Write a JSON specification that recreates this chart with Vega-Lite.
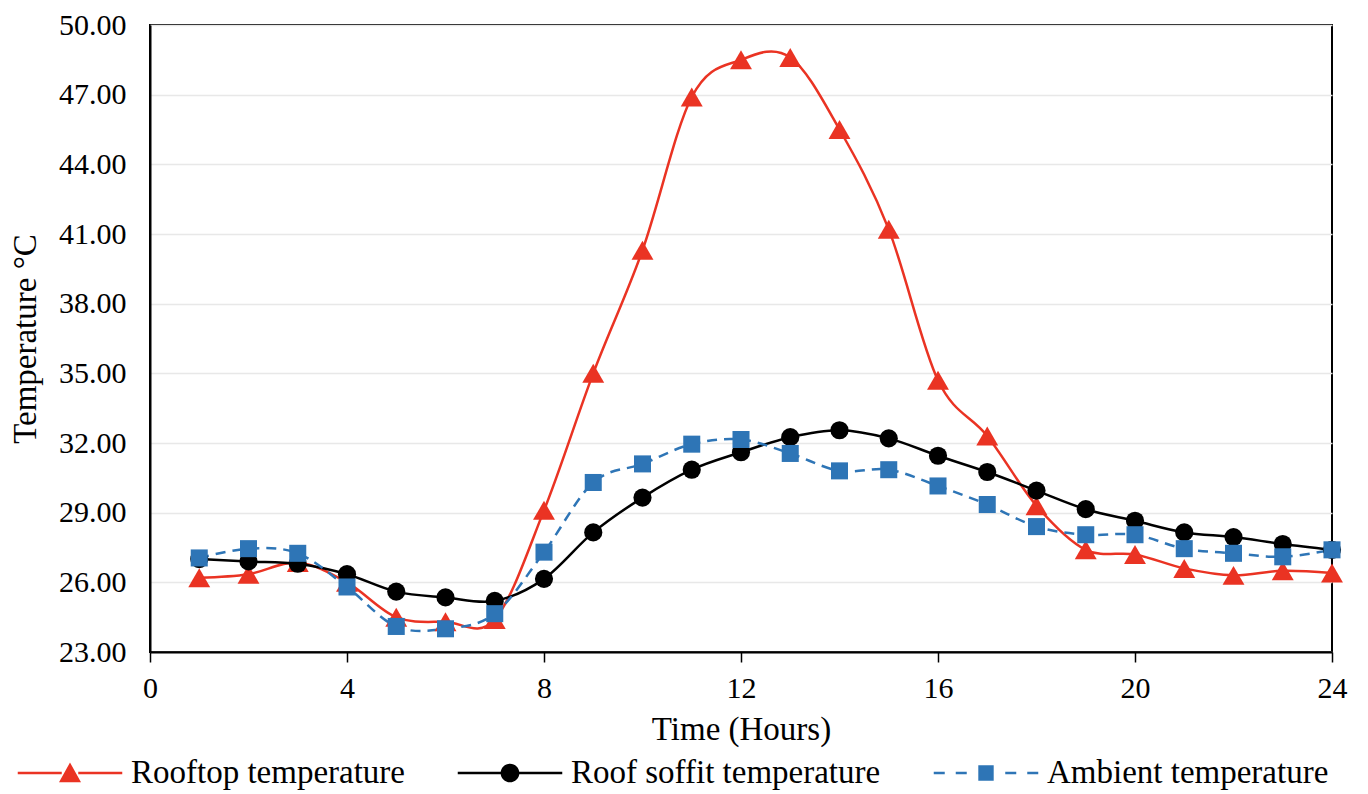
{
  "$schema": "https://vega.github.io/schema/vega-lite/v6.json",
  "autosize": "none",
  "width": 1182,
  "height": 627,
  "padding": {"left": 150, "top": 25, "right": 36, "bottom": 142},
  "background": "white",
  "config": {
    "view": {"stroke": "black", "strokeWidth": 2},
    "font": "Liberation Serif, Times New Roman, DejaVu Serif, serif"
  },
  "data": {
    "values": [
      {"hour": 1, "series": "Rooftop temperature", "temp": 26.2},
      {"hour": 2, "series": "Rooftop temperature", "temp": 26.35},
      {"hour": 3, "series": "Rooftop temperature", "temp": 26.85},
      {"hour": 4, "series": "Rooftop temperature", "temp": 26.0},
      {"hour": 5, "series": "Rooftop temperature", "temp": 24.5},
      {"hour": 6, "series": "Rooftop temperature", "temp": 24.3},
      {"hour": 7, "series": "Rooftop temperature", "temp": 24.4},
      {"hour": 8, "series": "Rooftop temperature", "temp": 29.1},
      {"hour": 9, "series": "Rooftop temperature", "temp": 35.0},
      {"hour": 10, "series": "Rooftop temperature", "temp": 40.3},
      {"hour": 11, "series": "Rooftop temperature", "temp": 46.9},
      {"hour": 12, "series": "Rooftop temperature", "temp": 48.5},
      {"hour": 13, "series": "Rooftop temperature", "temp": 48.6},
      {"hour": 14, "series": "Rooftop temperature", "temp": 45.5},
      {"hour": 15, "series": "Rooftop temperature", "temp": 41.2},
      {"hour": 16, "series": "Rooftop temperature", "temp": 34.7},
      {"hour": 17, "series": "Rooftop temperature", "temp": 32.3},
      {"hour": 18, "series": "Rooftop temperature", "temp": 29.3},
      {"hour": 19, "series": "Rooftop temperature", "temp": 27.4},
      {"hour": 20, "series": "Rooftop temperature", "temp": 27.2},
      {"hour": 21, "series": "Rooftop temperature", "temp": 26.6},
      {"hour": 22, "series": "Rooftop temperature", "temp": 26.3},
      {"hour": 23, "series": "Rooftop temperature", "temp": 26.5},
      {"hour": 24, "series": "Rooftop temperature", "temp": 26.4},
      {"hour": 1, "series": "Roof soffit temperature", "temp": 27.0},
      {"hour": 2, "series": "Roof soffit temperature", "temp": 26.9},
      {"hour": 3, "series": "Roof soffit temperature", "temp": 26.8},
      {"hour": 4, "series": "Roof soffit temperature", "temp": 26.35},
      {"hour": 5, "series": "Roof soffit temperature", "temp": 25.6},
      {"hour": 6, "series": "Roof soffit temperature", "temp": 25.35},
      {"hour": 7, "series": "Roof soffit temperature", "temp": 25.2},
      {"hour": 8, "series": "Roof soffit temperature", "temp": 26.15},
      {"hour": 9, "series": "Roof soffit temperature", "temp": 28.15},
      {"hour": 10, "series": "Roof soffit temperature", "temp": 29.65},
      {"hour": 11, "series": "Roof soffit temperature", "temp": 30.85},
      {"hour": 12, "series": "Roof soffit temperature", "temp": 31.6},
      {"hour": 13, "series": "Roof soffit temperature", "temp": 32.25},
      {"hour": 14, "series": "Roof soffit temperature", "temp": 32.55},
      {"hour": 15, "series": "Roof soffit temperature", "temp": 32.2},
      {"hour": 16, "series": "Roof soffit temperature", "temp": 31.45},
      {"hour": 17, "series": "Roof soffit temperature", "temp": 30.75},
      {"hour": 18, "series": "Roof soffit temperature", "temp": 29.95},
      {"hour": 19, "series": "Roof soffit temperature", "temp": 29.15},
      {"hour": 20, "series": "Roof soffit temperature", "temp": 28.65},
      {"hour": 21, "series": "Roof soffit temperature", "temp": 28.15},
      {"hour": 22, "series": "Roof soffit temperature", "temp": 27.95},
      {"hour": 23, "series": "Roof soffit temperature", "temp": 27.65},
      {"hour": 24, "series": "Roof soffit temperature", "temp": 27.4},
      {"hour": 1, "series": "Ambient temperature", "temp": 27.05},
      {"hour": 2, "series": "Ambient temperature", "temp": 27.45},
      {"hour": 3, "series": "Ambient temperature", "temp": 27.25},
      {"hour": 4, "series": "Ambient temperature", "temp": 25.8},
      {"hour": 5, "series": "Ambient temperature", "temp": 24.1},
      {"hour": 6, "series": "Ambient temperature", "temp": 24.0},
      {"hour": 7, "series": "Ambient temperature", "temp": 24.65},
      {"hour": 8, "series": "Ambient temperature", "temp": 27.3},
      {"hour": 9, "series": "Ambient temperature", "temp": 30.3},
      {"hour": 10, "series": "Ambient temperature", "temp": 31.1},
      {"hour": 11, "series": "Ambient temperature", "temp": 31.95},
      {"hour": 12, "series": "Ambient temperature", "temp": 32.15},
      {"hour": 13, "series": "Ambient temperature", "temp": 31.55},
      {"hour": 14, "series": "Ambient temperature", "temp": 30.8},
      {"hour": 15, "series": "Ambient temperature", "temp": 30.85},
      {"hour": 16, "series": "Ambient temperature", "temp": 30.15},
      {"hour": 17, "series": "Ambient temperature", "temp": 29.35},
      {"hour": 18, "series": "Ambient temperature", "temp": 28.4},
      {"hour": 19, "series": "Ambient temperature", "temp": 28.05},
      {"hour": 20, "series": "Ambient temperature", "temp": 28.05},
      {"hour": 21, "series": "Ambient temperature", "temp": 27.45},
      {"hour": 22, "series": "Ambient temperature", "temp": 27.25},
      {"hour": 23, "series": "Ambient temperature", "temp": 27.1},
      {"hour": 24, "series": "Ambient temperature", "temp": 27.4}
    ]
  },
  "encoding": {
    "x": {
      "field": "hour", "type": "quantitative",
      "scale": {"domain": [0, 24], "nice": false},
      "axis": {
        "title": "Time (Hours)", "values": [0, 4, 8, 12, 16, 20, 24], "grid": false,
        "domainColor": "black", "domainWidth": 2, "tickColor": "black", "tickWidth": 1.5, "tickSize": 10,
        "labelFont": "Liberation Serif, Times New Roman, DejaVu Serif, serif", "labelFontSize": 30, "labelColor": "black", "labelPadding": 11,
        "titleFont": "Liberation Serif, Times New Roman, DejaVu Serif, serif", "titleFontSize": 33, "titleFontWeight": "normal", "titleColor": "black", "titlePadding": 10,
        "labelFlush": false
      }
    },
    "y": {
      "field": "temp", "type": "quantitative",
      "scale": {"domain": [23, 50], "nice": false, "zero": false},
      "axis": {
        "title": "Temperature \u00b0C", "values": [23, 26, 29, 32, 35, 38, 41, 44, 47, 50], "format": ".2f",
        "ticks": false, "domainColor": "black", "domainWidth": 2,
        "gridColor": "#e8e8e8", "gridWidth": 1.5,
        "labelFont": "Liberation Serif, Times New Roman, DejaVu Serif, serif", "labelFontSize": 30, "labelColor": "black", "labelPadding": 24,
        "titleFont": "Liberation Serif, Times New Roman, DejaVu Serif, serif", "titleFontSize": 33, "titleFontWeight": "normal", "titleColor": "black", "titlePadding": 16,
        "labelFlush": false
      }
    },
    "color": {
      "field": "series", "type": "nominal",
      "scale": {
        "domain": ["Rooftop temperature", "Roof soffit temperature", "Ambient temperature"],
        "range": ["#ea3323", "#000000", "#2e75b6"]
      },
      "legend": {
        "orient": "none", "legendX": -135, "legendY": 693, "direction": "horizontal",
        "title": null, "symbolSize": 12100, "symbolStrokeWidth": 0,
        "labelFont": "Liberation Serif, Times New Roman, DejaVu Serif, serif", "labelFontSize": 33, "labelColor": "black",
        "labelLimit": 0, "labelOffset": 6, "columnPadding": 50,
        "encode": {
          "symbols": {
            "update": {
              "shape": {"signal": "datum.value === 'Rooftop temperature' ? 'M-0.95,-0.023L-0.15,-0.023L-0.15,0.023L-0.95,0.023ZM0.15,-0.023L0.95,-0.023L0.95,0.023L0.15,0.023ZM-0.2,0.17L0.2,0.17L0,-0.19Z' : datum.value === 'Roof soffit temperature' ? 'M-0.95,-0.023L-0.15,-0.023L-0.15,0.023L-0.95,0.023ZM0.15,-0.023L0.95,-0.023L0.95,0.023L0.15,0.023ZM-0.17,0A0.17,0.17,0,1,1,0.17,0A0.17,0.17,0,1,1,-0.17,0Z' : 'M-0.95,-0.023L-0.75,-0.023L-0.75,0.023L-0.95,0.023ZM-0.55,-0.023L-0.35,-0.023L-0.35,0.023L-0.55,0.023ZM-0.14,-0.14L0.14,-0.14L0.14,0.14L-0.14,0.14ZM0.35,-0.023L0.55,-0.023L0.55,0.023L0.35,0.023ZM0.75,-0.023L0.95,-0.023L0.95,0.023L0.75,0.023Z'"},
              "size": {"value": 12100},
              "fill": {"scale": "color", "field": "value"},
              "fillOpacity": {"value": 1},
              "opacity": {"value": 1},
              "strokeWidth": {"value": 0}
            }
          }
        }
      }
    }
  },
  "layer": [
    {
      "transform": [{"filter": "datum.series !== 'Ambient temperature'"}],
      "mark": {"type": "line", "interpolate": "cardinal", "strokeWidth": 2.5},
      "encoding": {"detail": {"field": "series", "type": "nominal"}}
    },
    {
      "transform": [{"filter": "datum.series === 'Ambient temperature'"}],
      "mark": {"type": "line", "interpolate": "cardinal", "strokeWidth": 2.5, "strokeDash": [10, 7]}
    },
    {
      "transform": [{"filter": "datum.series === 'Rooftop temperature'"}],
      "mark": {"type": "point", "filled": true, "opacity": 1, "shape": "triangle-up", "size": 480}
    },
    {
      "transform": [{"filter": "datum.series === 'Roof soffit temperature'"}],
      "mark": {"type": "point", "filled": true, "opacity": 1, "shape": "circle", "size": 330}
    },
    {
      "transform": [{"filter": "datum.series === 'Ambient temperature'"}],
      "mark": {"type": "point", "filled": true, "opacity": 1, "shape": "square", "size": 290}
    }
  ]
}
